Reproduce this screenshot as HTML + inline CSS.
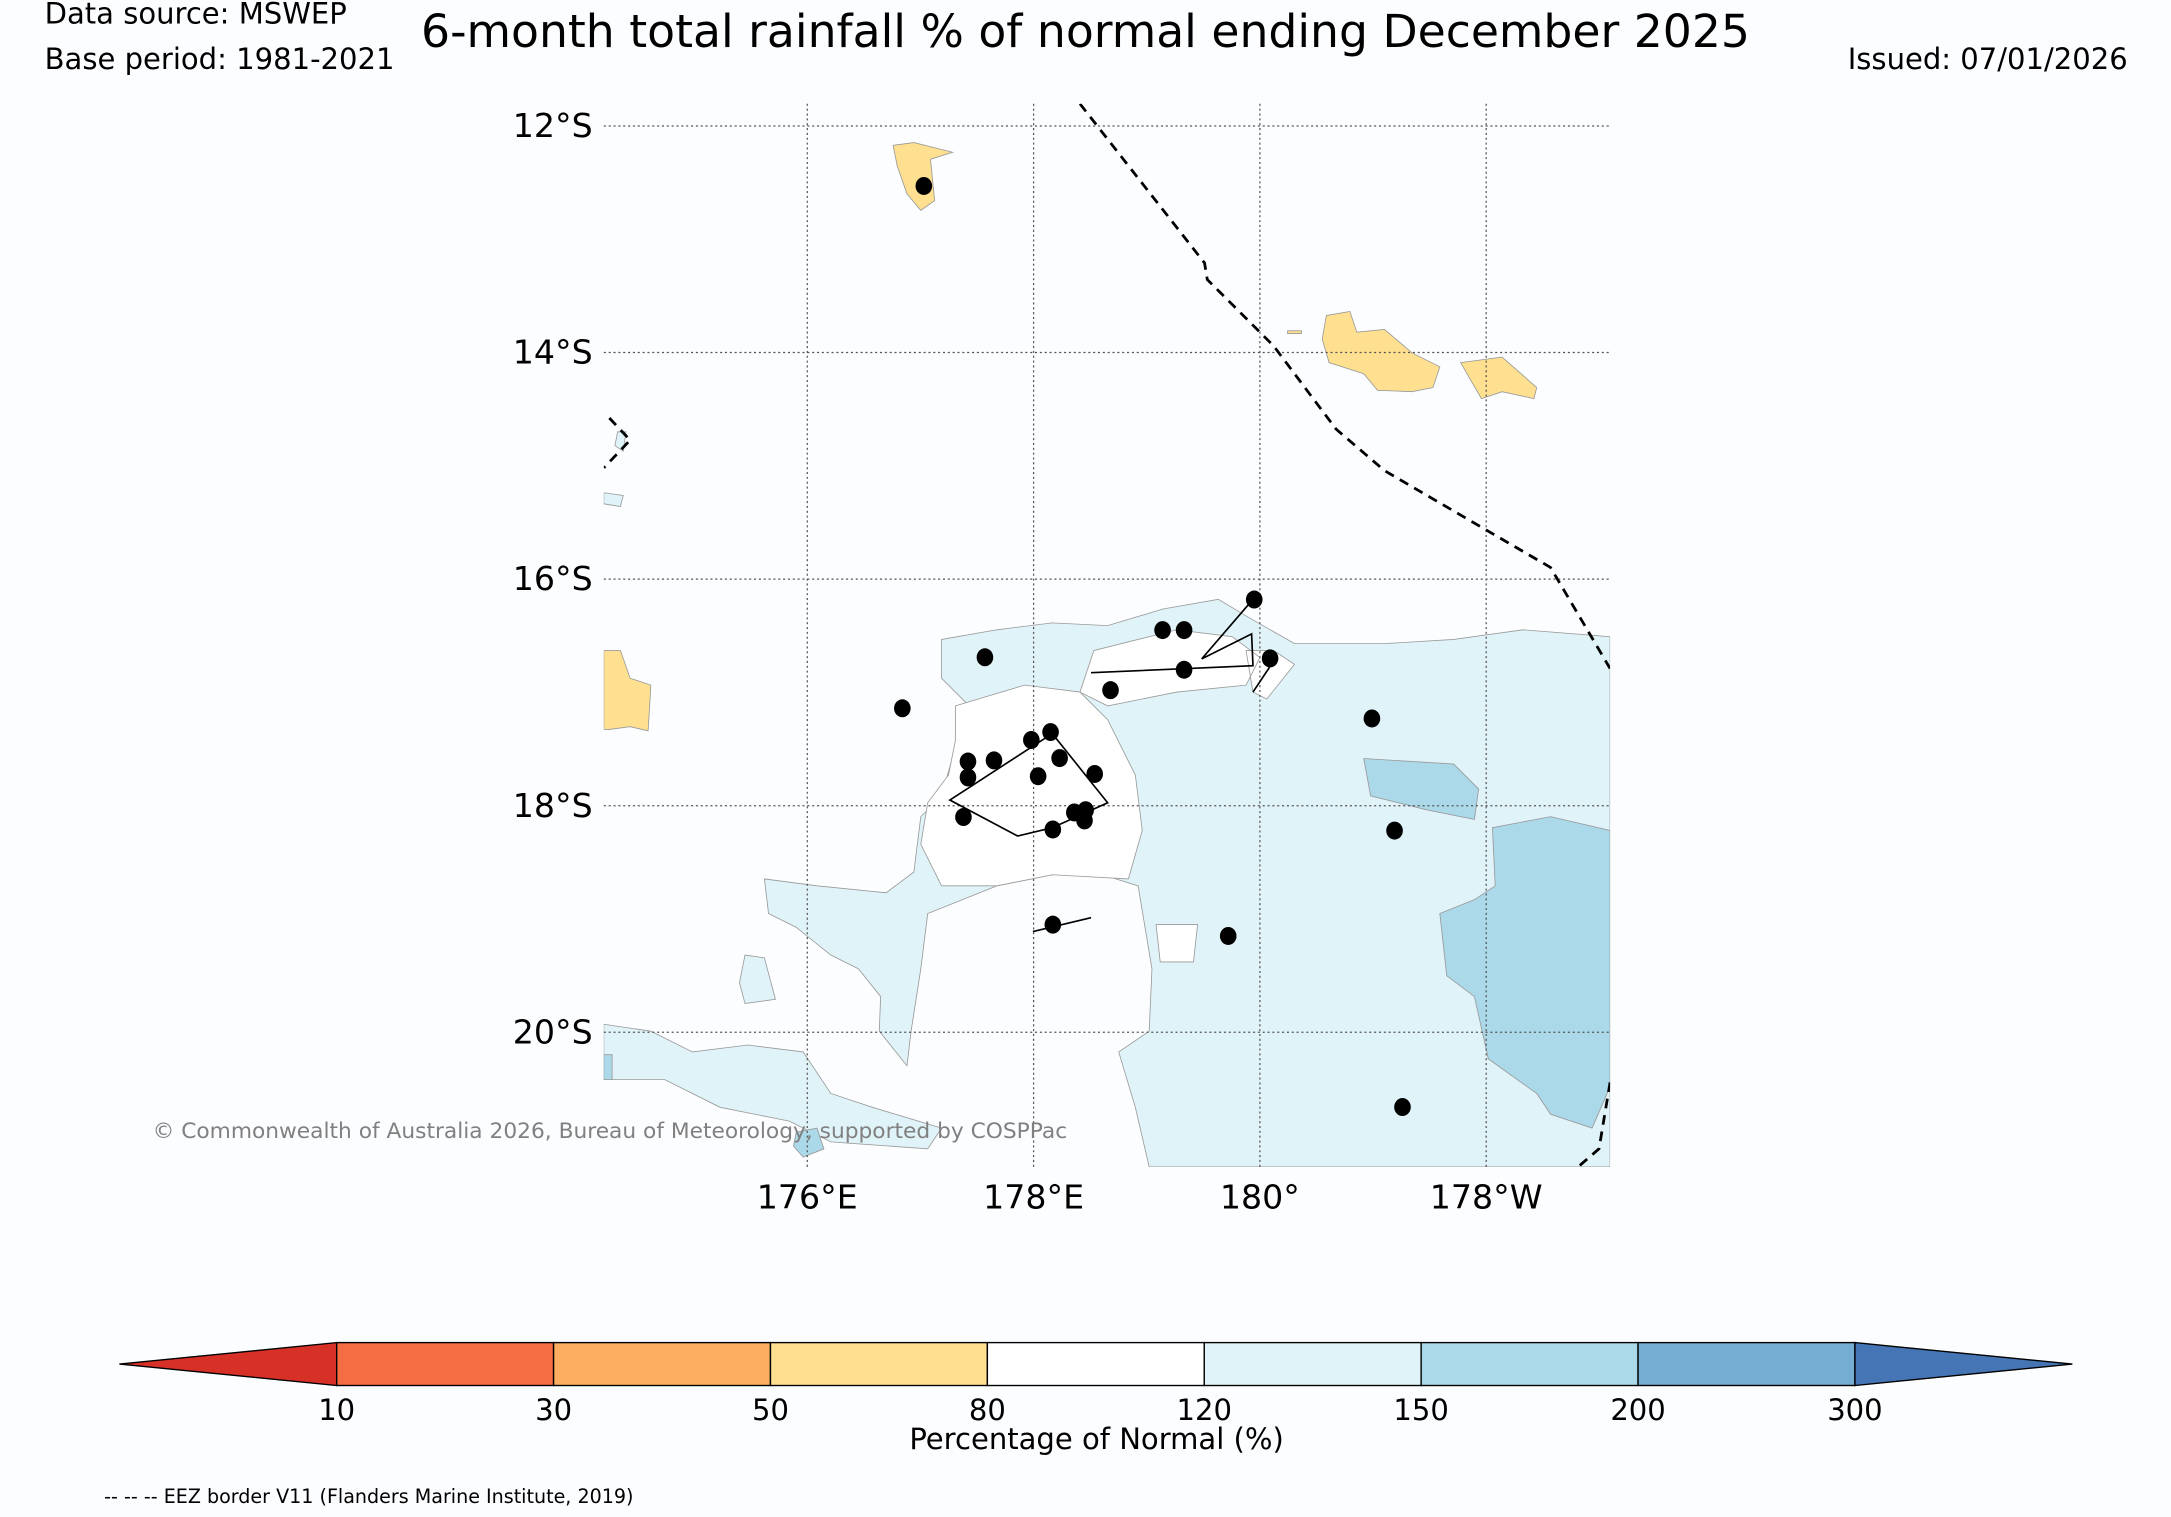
<!DOCTYPE html>
<html><head><meta charset="utf-8"><style>
html,body{margin:0;padding:0;background:#fcfdff;}
svg{display:block;font-family:"DejaVu Sans","Liberation Sans",sans-serif;}
</style></head><body>
<svg id="chart" width="2171" height="1517" viewBox="0 0 1568 1096" xmlns="http://www.w3.org/2000/svg">
<rect width="1568" height="1096" fill="#fcfdff"/>
<text x="32" y="17" font-size="21" fill="#000">Data source: MSWEP</text>
<text x="32" y="50" font-size="21" fill="#000">Base period: 1981-2021</text>
<text x="784" y="34" font-size="33" text-anchor="middle" fill="#000">6-month total rainfall % of normal ending December 2025</text>
<text x="1537" y="50" font-size="21" text-anchor="end" fill="#000">Issued: 07/01/2026</text>

<g>
<clipPath id="mc"><rect x="436" y="75" width="727" height="768"/></clipPath>
<g clip-path="url(#mc)" stroke="#999" stroke-width="0.6">
<path fill="#e0f3f8" d="M680,462 L720,455 760,450 800,452 840,440 880,433 900,445 935,465 1000,465 1050,462 1100,455 1163,460 1163,843 830,843 820,800 808,760 830,745 832,700 822,640 790,630 760,632 720,640 690,652 670,660 665,700 658,745 655,770 635,745 636,720 620,700 600,690 575,670 555,660 552,635 590,640 640,645 660,630 665,590 680,575 690,540 710,520 690,500 680,490 Z"/>
<path fill="#e0f3f8" d="M436,740 L470,745 500,760 540,755 580,760 600,790 630,800 680,815 670,830 600,825 570,810 520,800 480,780 436,780 Z M538,690 L552,692 560,722 538,725 534,710 Z M446,312 L452,312 450,326 444,322Z M436,356 L450,358 448,366 436,364Z"/>
<path fill="#fff" d="M690,510 L740,495 780,500 800,520 820,560 825,600 815,635 760,632 720,640 680,640 665,610 670,580 685,560 690,535 Z"/>
<path fill="#fff" d="M790,470 L850,455 890,460 910,475 900,495 850,500 800,510 780,500 Z M900,470 L920,470 935,480 915,505 905,500Z M835,668 L865,668 862,695 838,695Z"/>
<path fill="#abd9e9" d="M985,548 L1050,552 1068,570 1065,592 1030,585 990,575 Z M1078,598 L1120,590 1163,600 1163,785 1150,815 1120,805 1110,790 1075,765 1065,720 1045,705 1040,660 1065,650 1080,640 Z M436,762 L442,762 442,780 436,780Z M575,818 L590,815 595,830 580,836 573,828Z"/>
<path fill="#fee090" d="M645,105 L660,103 688,110 672,115 675,145 665,152 655,140 648,120 Z M958,228 L975,225 980,240 1000,238 1020,255 1040,265 1035,280 1020,283 995,282 985,270 960,262 955,245 Z M1055,262 L1085,258 1110,280 1108,288 1085,283 1070,288 Z M436,470 L448,470 455,490 470,495 468,528 455,525 440,527 436,527 Z M930,239 L940,239 940,241 930,241Z"/>
</g>
<g stroke="#555" stroke-width="0.9" stroke-dasharray="1.5,2" id="grid"></g>
<g clip-path="url(#mc)" fill="none" stroke="#000" stroke-width="2" stroke-dasharray="7,5">
<path d="M780,75 L870,190 872,202 920,250 965,310 1000,340 1060,375 1120,410 1163,483 M1163,782 L1155,830 1140,843 M440,302 L455,318 436,338"/>
</g>
<g fill="none" stroke="#000" stroke-width="1.2">
<path d="M686,578 L760,530 800,580 760,598 735,604 Z M788,486 L905,481 904,458 868,476 905,433 M746,673 L788,663 M905,500 L917,482"/>
</g>
<g id="stations"></g>
<g id="ticklabels" font-size="24" fill="#000"></g>
</g>
<text x="110" y="822" font-size="15.7" fill="#808080">© Commonwealth of Australia 2026, Bureau of Meteorology, supported by COSPPac</text>

<g id="colorbar" stroke="#000" stroke-width="1"></g>
<text x="792" y="1047" font-size="21" text-anchor="middle" fill="#000">Percentage of Normal (%)</text>
<text x="75" y="1086" font-size="13.8" fill="#000">-- -- -- EEZ border V11 (Flanders Marine Institute, 2019)</text>
</svg>
<script>
const lonTicks=[176,178,180,182];
const lonLabels=["176°E","178°E","180°","178°W"];
const latTicks=[12,14,16,18,20];
const latLabels=["12°S","14°S","16°S","18°S","20°S"];
const stationLon=[177.03,177.57,176.84,177.42,177.42,177.65,177.98,178.15,178.23,178.04,178.54,178.36,178.46,178.45,178.17,177.38,178.17,178.68,179.14,179.33,179.95,179.33,180.09,180.99,181.19,179.72,181.26];
const stationLat=[12.53,16.69,17.14,17.61,17.75,17.60,17.42,17.35,17.58,17.74,17.72,18.06,18.04,18.13,18.21,18.10,19.05,16.98,16.45,16.45,16.18,16.80,16.70,17.23,18.22,19.15,20.66];
const cbBounds=["10","30","50","80","120","150","200","300"];
const cbColors=["#f46d43","#fdae61","#fee090","#ffffff","#e0f3f8","#abd9e9","#74add1"];
const cbUnder="#d73027", cbOver="#4575b4";
const NS="http://www.w3.org/2000/svg";
const xS=lon=>583+(lon-176)*81.75;
const yS=lat=>91+(lat-12)*81.85;
function mk(t,a,p){const e=document.createElementNS(NS,t);for(const k in a)e.setAttribute(k,a[k]);p.appendChild(e);return e;}
const grid=document.getElementById('grid'),tl=document.getElementById('ticklabels');
lonTicks.forEach((v,i)=>{
 const l=mk('line',{x1:xS(v),x2:xS(v),y1:75,y2:843},grid);
 
 
 const t=mk('text',{x:xS(v),y:873,'text-anchor':'middle'},tl);t.textContent=lonLabels[i];
 
 
});
latTicks.forEach((v,i)=>{
 const l=mk('line',{x1:436,x2:1163,y1:yS(v),y2:yS(v)},grid);
 
 
 const t=mk('text',{x:428,y:yS(v)+8,'text-anchor':'end'},tl);t.textContent=latLabels[i];
 
 
});
const st=document.getElementById('stations');
stationLon.forEach((lo,i)=>{
 const c=mk('ellipse',{cx:xS(lo),cy:yS(stationLat[i]),rx:6,ry:6.5,fill:'#000'},st);
 
 
});
const cb=document.getElementById('colorbar');
const cx=i=>243+i*156.7, cy0=970, cy1=1001;
const under=mk('polygon',{points:`86,985.5 ${cx(0)},${cy0} ${cx(0)},${cy1}`,fill:cbUnder},cb);


cbColors.forEach((c,i)=>{
 const r=mk('rect',{x:cx(i),y:cy0,width:156.7,height:cy1-cy0,fill:c},cb);
 
 
});
const over=mk('polygon',{points:`${cx(7)},${cy0} 1497,985.5 ${cx(7)},${cy1}`,fill:cbOver},cb);


cbBounds.forEach((b,i)=>{
 const t=mk('text',{x:cx(i),y:1026,'text-anchor':'middle','font-size':21,stroke:'none',fill:'#000'},cb);t.textContent=b;
 
 
});
</script>
</body></html>
